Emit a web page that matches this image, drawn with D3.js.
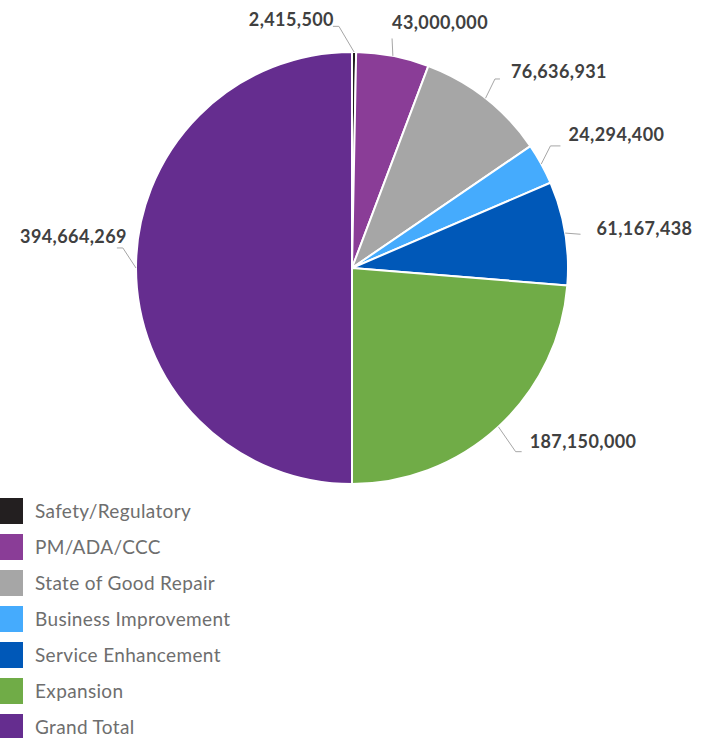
<!DOCTYPE html>
<html>
<head>
<meta charset="utf-8">
<script src="https://cdn.jsdelivr.net/npm/d3@7"></script>
<style>
  html, body { margin: 0; padding: 0; background: #fff; }
  svg { display: block; }
</style>
</head>
<body>
<svg id="chart" width="714" height="738"></svg>
<script>
// Capital budget by program category
const categories = ["Safety/Regulatory", "PM/ADA/CCC", "State of Good Repair",
  "Business Improvement", "Service Enhancement", "Expansion", "Grand Total"];
const values = [2415500, 43000000, 76636931, 24294400, 61167438, 187150000, 394664269];
const colors = ["#231f20", "#8a3d97", "#a6a6a6", "#45abfd", "#0058b8", "#70ac47", "#652d8f"];

// Leader-line layout for each value label:
// elbow = [angle in degrees clockwise from 12 o'clock, radius],
// tail = horizontal run after the elbow, text = offset from the elbow, anchor = text alignment
const labelLayout = [
  { elbow: [-3.1, 242], tail: -6, text: [-5, -7],  anchor: "end" },
  { elbow: [9.9, 233],  tail: 0,  text: [0, -16],  anchor: "start" },
  { elbow: [37.1, 237], tail: 5,  text: [16, -8],  anchor: "start" },
  { elbow: [58.4, 233], tail: 10, text: [18, -12], anchor: "start" },
  { elbow: [81.6, 231], tail: 0,  text: [16, -6],  anchor: "start" },
  { elbow: [138.3, 246], tail: 6, text: [14, -11], anchor: "start" },
  { elbow: [275, 230],  tail: -6, text: [4, -12],  anchor: "end" }
];

const svg = d3.select("#chart");
const cx = 352, cy = 268, R = 216;
const g = svg.append("g").attr("transform", `translate(${cx},${cy})`);

const pie = d3.pie().sort(null).value(d => d);
const arcs = pie(values);
const arc = d3.arc().innerRadius(0).outerRadius(R);

g.selectAll("path.slice")
  .data(arcs)
  .join("path")
  .attr("class", "slice")
  .attr("d", arc)
  .attr("fill", (d, i) => colors[i])
  .attr("stroke", "#fff")
  .attr("stroke-width", 2)
  .attr("stroke-linejoin", "round");

const fmt = d3.format(",");
const polar = (deg, r) => {
  const a = deg * Math.PI / 180;
  return [r * Math.sin(a), -r * Math.cos(a)];
};

arcs.forEach((d, i) => {
  const L = labelLayout[i];
  const mid = (d.startAngle + d.endAngle) / 2 * 180 / Math.PI;
  const p0 = polar(mid, R);
  const p1 = polar(L.elbow[0], L.elbow[1]);
  const p2 = [p1[0] + L.tail, p1[1]];

  g.append("polyline")
    .attr("points", [p0, p1, p2].map(p => p.join(",")).join(" "))
    .attr("fill", "none")
    .attr("stroke", "#a6a6a6")
    .attr("stroke-width", 1);

  g.append("text")
    .attr("x", p1[0] + L.text[0])
    .attr("y", p1[1] + L.text[1])
    .attr("text-anchor", L.anchor)
    .attr("dominant-baseline", "central")
    .attr("font-family", "Lato, 'Open Sans', sans-serif")
    .attr("font-weight", 700)
    .attr("font-size", 18)
    .attr("letter-spacing", 0.4)
    .attr("fill", "#404040")
    .text(fmt(values[i]));
});

// Legend
const ly = d3.scaleLinear().domain([0, 6]).range([498, 714]);
const legend = svg.append("g");
const item = legend.selectAll("g")
  .data(categories)
  .join("g")
  .attr("transform", (d, i) => `translate(0,${ly(i)})`);
item.append("rect")
  .attr("x", -3).attr("y", 0)
  .attr("width", 26).attr("height", 26)
  .attr("fill", (d, i) => colors[i]);
item.append("text")
  .attr("x", 35).attr("y", 12)
  .attr("dominant-baseline", "central")
  .attr("font-family", "Lato, 'Open Sans', sans-serif")
  .attr("font-size", 19)
  .attr("letter-spacing", 0.35)
  .attr("fill", "#6e6e6e")
  .text(d => d);
</script>
</body>
</html>
